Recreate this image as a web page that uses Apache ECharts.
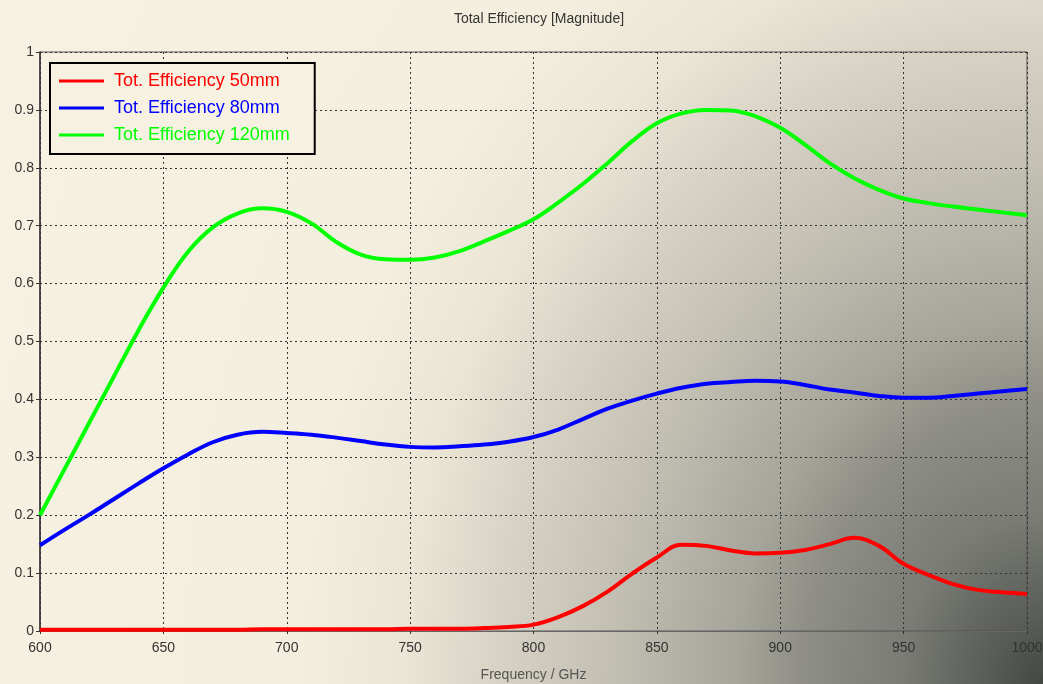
<!DOCTYPE html>
<html>
<head>
<meta charset="utf-8">
<script src="https://cdn.jsdelivr.net/npm/echarts@6/dist/echarts.min.js"></script>
<style>
  html, body { margin:0; padding:0; overflow:hidden; }
  #chart {
    width:1043px; height:684px;
    background: radial-gradient(ellipse 1100px 1300px at 100% 100%, #444844 0%, #7a7c75 13%, #8f8f87 22%, #a6a59b 28%, #c4c0b4 40%, #d8d3c5 50%, #ebe5d5 58%, #f4eede 68%, #f7f1e1 100%);
  }
</style>
</head>
<body>
<div id="chart"></div>
<script>
const freqs = [600,610,620,630,640,650,660,670,680,690,700,710,720,730,740,750,760,770,780,790,800,810,820,830,840,850,860,870,880,890,900,910,920,930,940,950,960,970,980,990,1000];
const eff50mm = [0.002,0.002,0.002,0.002,0.002,0.002,0.002,0.002,0.002,0.003,0.003,0.003,0.003,0.003,0.003,0.004,0.004,0.004,0.005,0.007,0.011,0.024,0.043,0.068,0.099,0.127,0.149,0.147,0.139,0.134,0.135,0.140,0.150,0.161,0.147,0.116,0.097,0.081,0.071,0.067,0.064];
const eff80mm = [0.148,0.175,0.201,0.228,0.255,0.281,0.305,0.326,0.339,0.344,0.342,0.339,0.334,0.328,0.322,0.318,0.317,0.319,0.322,0.327,0.335,0.348,0.366,0.384,0.398,0.410,0.420,0.427,0.430,0.432,0.431,0.425,0.417,0.412,0.406,0.403,0.403,0.406,0.410,0.414,0.418];
const eff120mm = [0.200,0.280,0.360,0.440,0.520,0.593,0.655,0.697,0.721,0.730,0.724,0.704,0.672,0.650,0.642,0.641,0.645,0.656,0.673,0.691,0.711,0.740,0.772,0.808,0.846,0.877,0.894,0.900,0.899,0.889,0.869,0.840,0.808,0.782,0.762,0.747,0.739,0.733,0.728,0.723,0.718];
const seriesNames = ['Tot. Efficiency 50mm','Tot. Efficiency 80mm','Tot. Efficiency 120mm'];
const seriesColors = ['#ff0000','#0000ff','#00ff00'];
const titleText = 'Total Efficiency [Magnitude]';
const xAxisName = 'Frequency / GHz';

const pair = (ys) => freqs.map((f, i) => [f, ys[i]]);
const allData = [eff50mm, eff80mm, eff120mm];

const chart = echarts.init(document.getElementById('chart'), null, {renderer:'canvas'});
chart.setOption({
  backgroundColor: 'transparent',
  animation: false,
  title: {
    text: titleText, left: 534, top: 7, textAlign: 'center',
    textStyle: { fontFamily: 'Liberation Sans', fontSize: 14, fontWeight: 'normal', color: '#333' }
  },
  grid: { left: 40, right: 16, top: 52, bottom: 53, containLabel: false, outerBoundsMode: 'none',
          show: true, borderColor: '#555', borderWidth: 1, backgroundColor: 'transparent' },
  legend: {
    orient: 'vertical', left: 50, top: 63,
    padding: [8, 25, 9, 9],
    borderColor: '#000', borderWidth: 2,
    backgroundColor: '#f7f1e1',
    itemWidth: 45, itemHeight: 3, itemGap: 7,
    icon: 'rect',
    textStyle: { fontFamily: 'Liberation Sans', fontSize: 18, lineHeight: 20, padding: [0,0,0,5] },
    data: seriesNames.map((n, i) => ({ name: n, textStyle: { color: seriesColors[i] } }))
  },
  xAxis: {
    type: 'value', min: 600, max: 1000, interval: 50,
    name: xAxisName, nameLocation: 'middle', nameGap: 37,
    nameTextStyle: { fontFamily: 'Liberation Sans', fontSize: 14, color: '#555' },
    axisLine: { show: true, onZero: false, lineStyle: { color: '#666', width: 1 } },
    axisTick: { show: true, length: 3, lineStyle: { color: '#333' } },
    axisLabel: { margin: 10, fontFamily: 'Liberation Sans', fontSize: 14, color: '#333', formatter: v => String(v) },
    splitLine: { show: true, lineStyle: { color: '#333', type: [2, 3], width: 1 } }
  },
  yAxis: {
    type: 'value', min: 0, max: 1, interval: 0.1,
    axisLine: { show: true, lineStyle: { color: '#333', width: 1.5 } },
    axisTick: { show: true, length: 4, lineStyle: { color: '#333' } },
    axisLabel: { margin: 6, fontFamily: 'Liberation Sans', fontSize: 14, color: '#333' },
    splitLine: { show: true, lineStyle: { color: '#333', type: [2, 3], width: 1 } }
  },
  series: seriesNames.map((n, i) => ({
    name: n, type: 'line', data: pair(allData[i]),
    smooth: 0.4, showSymbol: false, symbol: 'none',
    color: seriesColors[i],
    lineStyle: { color: seriesColors[i], width: 4 },
    z: 3 + i
  }))
});
</script>
</body>
</html>
